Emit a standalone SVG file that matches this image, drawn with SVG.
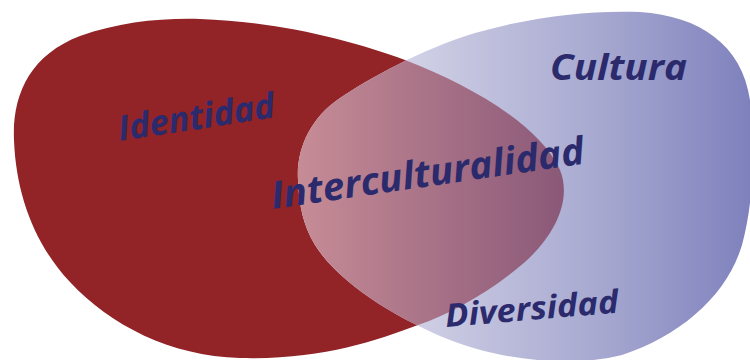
<svg xmlns="http://www.w3.org/2000/svg" width="750" height="360" viewBox="0 0 750 360">
  <style>
    .lbl { font-family: "Open Sans", "Noto Sans", "DejaVu Sans", sans-serif; font-weight: bold; font-style: italic; fill: #2b2a6c; }
  </style>
  <defs>
    <path id="redShape" d="M 14,140 C 12,95 30,55 80,36 C 120,22 160,18 200,19 C 280,22 350,40 405,60 C 470,85 540,125 560,170 C 572,200 555,235 525,262 C 490,292 450,314 418,325 C 372,342 320,360 240,358 C 170,356 110,325 70,282 C 35,245 16,195 14,140 Z"/>
    <path id="blueShape" d="M 298,180 C 296,150 310,118 340,98 C 370,78 420,50 475,33 C 530,17 590,10 640,12 C 700,16 742,45 750,100 C 755,150 754,200 742,245 C 727,295 682,335 622,355 C 572,368 500,360 450,340 C 400,320 340,285 315,245 C 303,225 299,205 298,180 Z"/>
    <clipPath id="blueClip"><use href="#blueShape"/></clipPath>
    <linearGradient id="blueGrad" gradientUnits="userSpaceOnUse" x1="300" y1="0" x2="750" y2="0">
      <stop offset="0" stop-color="#ececf5"/>
      <stop offset="0.33" stop-color="#c8c8e1"/>
      <stop offset="0.67" stop-color="#a6a8d0"/>
      <stop offset="1" stop-color="#7f81bd"/>
    </linearGradient>
    <linearGradient id="overlapGrad" gradientUnits="userSpaceOnUse" x1="300" y1="0" x2="565" y2="0">
      <stop offset="0" stop-color="#c68c96"/>
      <stop offset="1" stop-color="#8a5878"/>
    </linearGradient>
  </defs>

  <rect width="750" height="360" fill="#ffffff"/>

  <g id="identidad-blob">
    <use href="#redShape" fill="#922326"/>
  </g>
  <g id="cultura-blob">
    <use href="#blueShape" fill="url(#blueGrad)"/>
  </g>
  <g id="interculturalidad-overlap" clip-path="url(#blueClip)">
    <use href="#redShape" fill="url(#overlapGrad)"/>
  </g>

  <g id="label-identidad">
    <text class="lbl" font-size="35" x="0" y="0" textLength="158" lengthAdjust="spacingAndGlyphs" transform="translate(120,141) rotate(-8.7)">Identidad</text>
  </g>
  <g id="label-cultura">
    <text class="lbl" font-size="36" x="550" y="80" textLength="137" lengthAdjust="spacingAndGlyphs">Cultura</text>
  </g>
  <g id="label-interculturalidad">
    <text class="lbl" font-size="38" x="0" y="0" textLength="316" lengthAdjust="spacingAndGlyphs" transform="translate(273,209) rotate(-8.3)">Interculturalidad</text>
  </g>
  <g id="label-diversidad">
    <text class="lbl" font-size="32" x="0" y="0" textLength="174" lengthAdjust="spacingAndGlyphs" transform="translate(446,327) rotate(-4.8)">Diversidad</text>
  </g>
</svg>
